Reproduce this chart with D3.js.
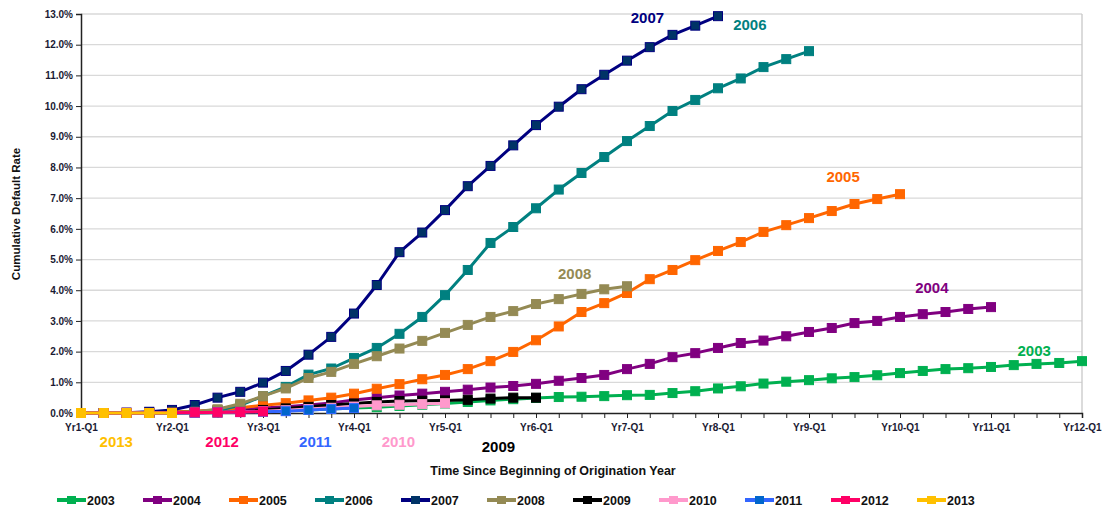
<!DOCTYPE html>
<html><head><meta charset="utf-8">
<script src="https://cdn.jsdelivr.net/npm/d3@7"></script>
<style>body{margin:0;background:#fff}svg{display:block;font-family:"Liberation Sans",Arial,sans-serif}</style>
</head><body><svg id="c" width="1107" height="508"></svg>
<script>
const years = ["2003","2004","2005","2006","2007","2008","2009","2010","2011","2012","2013"];
const colors = ["#00B050","#800080","#FF6600","#008080","#000080","#948A54","#000000","#FF99CC","#3366FF","#FF0066","#FFC000"];
const markerFill = ["#00B050","#800080","#FF6600","#008080","#003366","#948A54","#000000","#FF99CC","#0066CC","#FF0066","#FFC000"];
const xTickLabels = ["Yr1-Q1","Yr2-Q1","Yr3-Q1","Yr4-Q1","Yr5-Q1","Yr6-Q1","Yr7-Q1","Yr8-Q1","Yr9-Q1","Yr10-Q1","Yr11-Q1","Yr12-Q1"];
const yTicks = [0,1,2,3,4,5,6,7,8,9,10,11,12,13];
// cumulative default rate (%) per quarter since beginning of origination year
const s2003 = [0,0,0,0,0,0.01,0.02,0.04,0.06,0.08,0.1,0.13,0.16,0.19,0.23,0.27,0.31,0.36,0.41,0.45,0.49,0.52,0.53,0.55,0.58,0.59,0.65,0.71,0.8,0.87,0.96,1.02,1.07,1.13,1.17,1.23,1.3,1.37,1.43,1.46,1.5,1.56,1.6,1.63,1.69];
const s2004 = [0,0,0.01,0.02,0.03,0.05,0.08,0.12,0.16,0.2,0.26,0.33,0.42,0.5,0.57,0.63,0.69,0.76,0.83,0.88,0.95,1.05,1.14,1.24,1.43,1.6,1.82,1.95,2.12,2.28,2.36,2.5,2.64,2.77,2.93,3.0,3.13,3.22,3.29,3.39,3.45];
const s2005 = [0,0,0,0.01,0.03,0.06,0.1,0.17,0.25,0.32,0.41,0.5,0.63,0.79,0.94,1.1,1.24,1.43,1.69,1.99,2.37,2.82,3.29,3.58,3.91,4.36,4.66,4.98,5.28,5.57,5.9,6.12,6.35,6.58,6.81,6.97,7.13];
const s2006 = [0,0,0,0,0.01,0.03,0.08,0.25,0.55,0.85,1.25,1.45,1.79,2.12,2.58,3.13,3.84,4.66,5.54,6.06,6.67,7.28,7.82,8.34,8.86,9.35,9.84,10.2,10.58,10.9,11.27,11.53,11.79];
const s2007 = [0,0,0.01,0.04,0.1,0.26,0.5,0.69,0.99,1.37,1.9,2.48,3.24,4.17,5.24,5.88,6.61,7.39,8.05,8.72,9.38,9.98,10.55,11.02,11.48,11.92,12.32,12.62,12.93];
const s2008 = [0,0,0,0,0.01,0.04,0.12,0.3,0.55,0.8,1.14,1.34,1.6,1.85,2.1,2.35,2.61,2.87,3.13,3.32,3.55,3.71,3.88,4.03,4.13];
const s2009 = [0,0,0,0,0,0.01,0.02,0.04,0.1,0.15,0.2,0.26,0.31,0.36,0.39,0.4,0.41,0.43,0.47,0.5,0.5];
const s2010 = [0,0,0,0,0,0.01,0.02,0.04,0.06,0.09,0.13,0.17,0.21,0.25,0.27,0.29,0.32];
const s2011 = [0,0,0,0,0,0.01,0.02,0.03,0.04,0.06,0.1,0.13,0.16];
const s2012 = [0,0,0,0,0.01,0.02,0.02,0.03,0.05];
const s2013 = [0,0,0,0,0];
const seriesValues = [s2003,s2004,s2005,s2006,s2007,s2008,s2009,s2010,s2011,s2012,s2013];
const inlineLabels = [
  {y:"2003", q:41.9, v:1.86}, {y:"2004", q:37.4, v:3.9}, {y:"2005", q:33.5, v:7.52},
  {y:"2006", q:29.4, v:12.47}, {y:"2007", q:24.9, v:12.72}, {y:"2008", q:21.7, v:4.36}
];
const belowLabels = [
  {y:"2013", q:1.55}, {y:"2012", q:6.2}, {y:"2011", q:10.3}, {y:"2010", q:13.95}, {y:"2009", q:18.35, dy:5}
];

const svg = d3.select("#c");
const L = 81, R = 1082, T = 14, B = 413;
const x = d3.scaleLinear().domain([0,44]).range([L,R]);
const y = d3.scaleLinear().domain([0,13]).range([B,T]);

// gridlines
svg.append("g").selectAll("line").data(yTicks.filter(d=>d>0)).join("line")
  .attr("x1",L).attr("x2",R).attr("y1",d=>y(d)).attr("y2",d=>y(d))
  .attr("stroke","#d9d9d9").attr("stroke-width",1.3);
svg.append("line").attr("x1",R).attr("x2",R).attr("y1",T).attr("y2",B).attr("stroke","#c8c8c8").attr("stroke-width",1.3);

// y axis
const yAxis = d3.axisLeft(y).tickValues(yTicks).tickFormat(d=>d.toFixed(1)+"%").tickSize(5).tickPadding(3);
const gy = svg.append("g").attr("transform",`translate(${L},0)`).call(yAxis);
gy.select(".domain").attr("stroke","#222").attr("stroke-width",1.5);
gy.selectAll(".tick line").attr("stroke","#222");
gy.selectAll("text").attr("font-size",10).attr("font-weight","bold").attr("fill","#1a1a33");

// x axis: quarterly ticks, labels each year
const xAxis = d3.axisBottom(x).tickValues(d3.range(0,45)).tickSize(5).tickPadding(6)
  .tickFormat(d => d%4===0 ? xTickLabels[d/4] : "");
const gx = svg.append("g").attr("transform",`translate(0,${B})`).call(xAxis);
gx.select(".domain").attr("stroke","#222").attr("stroke-width",1.5);
gx.selectAll(".tick line").attr("stroke","#222");
gx.selectAll("text").attr("font-size",10).attr("font-weight","bold").attr("fill","#1a1a33");

// series
const line = d3.line().x((d,i)=>x(i)).y(d=>y(d));
const gS = svg.append("g");
seriesValues.forEach((vals,k)=>{
  const g = gS.append("g");
  g.append("path").datum(vals).attr("d",line).attr("fill","none")
    .attr("stroke",colors[k]).attr("stroke-width",3).attr("stroke-linejoin","round");
  g.selectAll("rect").data(vals).join("rect")
    .attr("x",(d,i)=>x(i)-4.5).attr("y",d=>y(d)-4.5).attr("width",9).attr("height",9)
    .attr("fill",markerFill[k]).attr("stroke",colors[k]).attr("stroke-width",1);
});

// inline labels
const colorOf = yr => colors[years.indexOf(yr)];
svg.append("g").selectAll("text").data(inlineLabels).join("text")
  .attr("x",d=>x(d.q)).attr("y",d=>y(d.v)).attr("text-anchor","middle")
  .attr("font-size",15).attr("font-weight","bold").attr("fill",d=>colorOf(d.y)).text(d=>d.y);
svg.append("g").selectAll("text").data(belowLabels).join("text")
  .attr("x",d=>x(d.q)).attr("y",d=>447+(d.dy||0)).attr("text-anchor","middle")
  .attr("font-size",15).attr("font-weight","bold").attr("fill",d=>colorOf(d.y)).text(d=>d.y);

// axis titles
svg.append("text").attr("x",553).attr("y",475).attr("text-anchor","middle")
  .attr("font-size",12.5).attr("font-weight","bold").attr("fill","#111").text("Time Since Beginning of Origination Year");
svg.append("text").attr("transform","translate(20,214) rotate(-90)").attr("text-anchor","middle")
  .attr("font-size",11.5).attr("font-weight","bold").attr("fill","#111").text("Cumulative Default Rate");

// legend
const lg = svg.append("g").selectAll("g").data(years).join("g")
  .attr("transform",(d,i)=>`translate(${57+i*86},500)`);
lg.append("line").attr("x1",0).attr("x2",29).attr("y1",0).attr("y2",0)
  .attr("stroke",(d,i)=>colors[i]).attr("stroke-width",4);
lg.append("rect").attr("x",10).attr("y",-4).attr("width",9).attr("height",8)
  .attr("fill",(d,i)=>markerFill[i]);
lg.append("text").attr("x",30).attr("y",4.5).attr("font-size",12.5).attr("font-weight","bold")
  .attr("fill","#111").text(d=>d);
</script></body></html>
